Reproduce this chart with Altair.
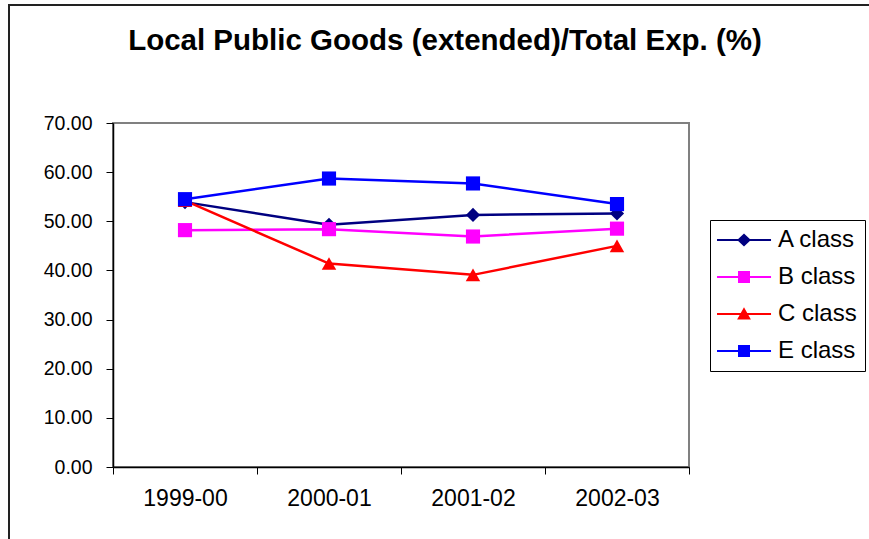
import altair as alt
import pandas as pd

years = ["1999-00", "2000-01", "2001-02", "2002-03"]
series_names = ["A class", "B class", "C class", "E class"]
a_vals = [53.9, 49.3, 51.3, 51.6]
b_vals = [48.2, 48.4, 46.9, 48.5]
c_vals = [54.2, 41.4, 39.1, 45.0]
e_vals = [54.5, 58.7, 57.7, 53.5]
y_ticks = [0, 10, 20, 30, 40, 50, 60, 70]

colors = ["#000080", "#FF00FF", "#FF0000", "#0000FF"]
marker_shapes = ["diamond", "square", "triangle-up", "square"]
marker_sizes = [200, 200, 210, 200]
# legend symbols: line segment (thin filled bar) + marker; unit = sqrt(symbolSize)/2 px
legend_line = "M-1.18,-0.1H3.73V0.1H-1.18Z"
legend_shapes = [
    legend_line + "M1.273,-0.6L1.9,0L1.273,0.6L0.646,0Z",
    legend_line + "M0.728,-0.545H1.818V0.545H0.728Z",
    legend_line + "M1.273,-0.62L1.9,0.5L0.646,0.5Z",
    legend_line + "M0.728,-0.545H1.818V0.545H0.728Z",
]

rows = []
for name, vals in zip(series_names, [a_vals, b_vals, c_vals, e_vals]):
    for yr, v in zip(years, vals):
        rows.append({"year": yr, "value": v, "series": name})
df = pd.DataFrame(rows)

FONT = "Liberation Sans"

x_enc = alt.X(
    "year:N",
    sort=years,
    bandPosition=0.5,
    scale=alt.Scale(type="band", paddingInner=0, paddingOuter=0),
    axis=alt.Axis(
        title=None, labelAngle=0, tickBand="extent", labelFont=FONT,
        labelFontSize=23, labelColor="black", labelPadding=13,
        domainColor="black", tickColor="black", tickSize=7, domainWidth=1.5,
    ),
)
y_enc = alt.Y(
    "value:Q",
    scale=alt.Scale(domain=[0, 70], nice=False, zero=True),
    axis=alt.Axis(
        title=None, values=y_ticks, format=".2f", grid=False, labelFont=FONT,
        labelFontSize=19.5, labelColor="black", labelPadding=14,
        domainColor="black", tickColor="black", tickSize=7, domainWidth=1.5,
    ),
)

base = alt.Chart(df)

series_layers = []
for name, col, shp, sz in zip(series_names, colors, marker_shapes, marker_sizes):
    sub = base.transform_filter(alt.datum.series == name)
    series_layers.append(
        sub.mark_line(strokeWidth=2.5, color=col).encode(x=x_enc, y=y_enc)
    )
    series_layers.append(
        sub.mark_point(filled=True, shape=shp, size=sz, color=col, opacity=1)
        .encode(x=x_enc, y=y_enc)
    )

leg = alt.Legend(title=None, symbolOpacity=1, symbolSize=484, symbolStrokeWidth=0)
legend_layer = base.mark_point(filled=True, opacity=0).encode(
    x=x_enc, y=y_enc,
    color=alt.Color("series:N", scale=alt.Scale(domain=series_names, range=colors), legend=leg),
    shape=alt.Shape("series:N", scale=alt.Scale(domain=series_names, range=legend_shapes), legend=leg),
)
frame = alt.Chart(pd.DataFrame({"k": [0]})).mark_rect(
    fill=None, stroke="#222222", strokeWidth=2
).encode(
    x=alt.value(-104), x2=alt.value(800), y=alt.value(-118), y2=alt.value(500)
)

chart = (
    alt.layer(frame, *series_layers, legend_layer)
    .properties(
        width=576,
        height=344,
        autosize=alt.AutoSizeParams(type="none"),
        padding={"left": 113, "top": 123, "right": 180, "bottom": 72},
        title=alt.TitleParams(
            "Local Public Goods (extended)/Total Exp. (%)",
            font=FONT, fontSize=29.5, fontWeight="bold", color="black",
            anchor="middle", frame="group", dx=44, offset=-75, baseline="alphabetic",
        ),
        background="white",
    )
    .configure_view(stroke="#808080", strokeWidth=2)
    .configure_legend(
        orient="none", legendX=597, legendY=97, padding=8,
        strokeColor="black", fillColor="white", rowPadding=13,
        labelOffset=36, symbolSize=484,
        labelFont=FONT, labelFontSize=24, labelColor="black",
    )
)

chart.save("out.html", embed_options={"renderer": "svg", "actions": False})
